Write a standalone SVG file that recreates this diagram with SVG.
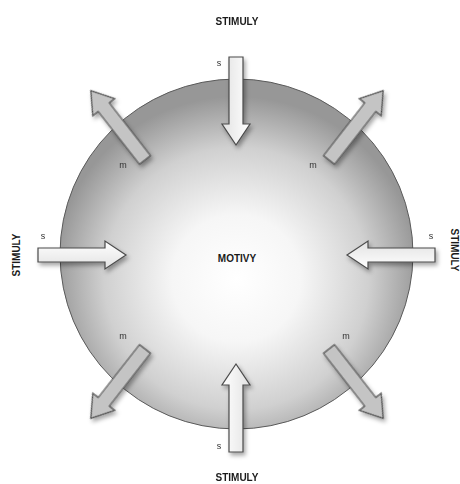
<svg xmlns="http://www.w3.org/2000/svg" width="460" height="484" viewBox="0 0 460 484">
<style>
.lbl{font-family:"Liberation Sans",Arial,sans-serif;font-weight:bold;font-size:10px;fill:#1a1a1a;text-anchor:middle}
.sm{font-family:"Liberation Sans",Arial,sans-serif;font-size:9px;fill:#333;text-anchor:middle}
.st{fill:url(#ag);stroke:#4a4a4a;stroke-width:1.2;stroke-linejoin:miter}
.dg{fill:#c4c4c4;stroke:#4a4a4a;stroke-width:1.2}
</style>
<defs>
<radialGradient id="bg" cx="50%" cy="57%" r="52%">
<stop offset="0" stop-color="#ffffff"/>
<stop offset="0.35" stop-color="#f6f6f6"/>
<stop offset="0.72" stop-color="#d0d0d0"/>
<stop offset="1" stop-color="#979797"/>
</radialGradient>
<linearGradient id="ag" x1="0" y1="0" x2="0" y2="1">
<stop offset="0" stop-color="#ffffff"/>
<stop offset="1" stop-color="#e2e2e2"/>
</linearGradient>
<filter id="sh" x="-30%" y="-30%" width="160%" height="160%">
<feDropShadow dx="2" dy="3" stdDeviation="2" flood-color="#000" flood-opacity="0.35"/>
</filter>
<path id="arr" d="M0,-7 H67 V-14 L88,0 L67,14 V7 H0 Z"/>
</defs>
<rect width="460" height="484" fill="#ffffff"/>
<g id="motivy">
<ellipse cx="236.5" cy="254" rx="176.5" ry="175" fill="url(#bg)" stroke="#5a5a5a" stroke-width="1"/>
<text class="lbl" x="237" y="262">MOTIVY</text>
</g>
<g id="connectors" filter="url(#sh)">
<use href="#arr" class="st" transform="translate(236,57) rotate(90)"/>
<use href="#arr" class="st" transform="translate(236,452) rotate(-90)"/>
<use href="#arr" class="st" transform="translate(38,255)"/>
<use href="#arr" class="st" transform="translate(435,255) rotate(180)"/>
<use href="#arr" class="dg" transform="translate(145,160) rotate(-128)"/>
<use href="#arr" class="dg" transform="translate(329,160) rotate(-52)"/>
<use href="#arr" class="dg" transform="translate(145,349) rotate(128)"/>
<use href="#arr" class="dg" transform="translate(329,349) rotate(52)"/>
</g>
<g id="stimuly-top">
<text class="lbl" x="237" y="25">STIMULY</text>
<text class="sm" x="219" y="66">s</text>
</g>
<g id="stimuly-bottom">
<text class="lbl" x="237" y="481">STIMULY</text>
<text class="sm" x="219" y="449">s</text>
</g>
<g id="stimuly-left">
<text class="lbl" transform="translate(20,255) rotate(-90)">STIMULY</text>
<text class="sm" x="43" y="239">s</text>
</g>
<g id="stimuly-right">
<text class="lbl" transform="translate(451,250) rotate(90)">STIMULY</text>
<text class="sm" x="431" y="239">s</text>
</g>
<g id="m-labels">
<text class="sm" x="123" y="168">m</text>
<text class="sm" x="313" y="168">m</text>
<text class="sm" x="123" y="339">m</text>
<text class="sm" x="346" y="339">m</text>
</g>
</svg>
